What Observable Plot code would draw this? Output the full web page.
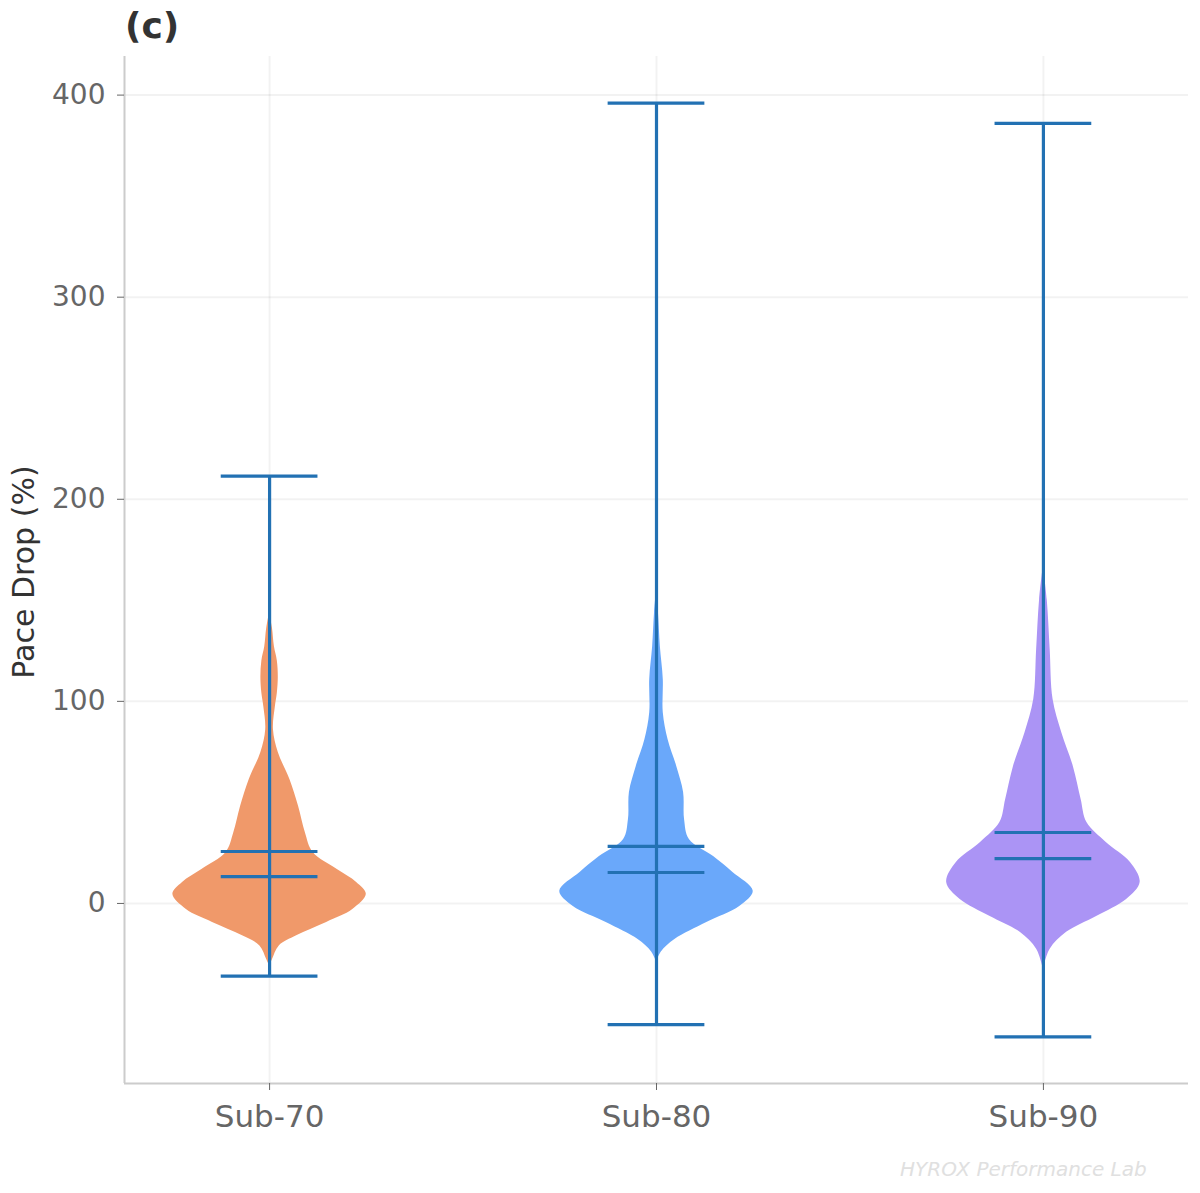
<!DOCTYPE html>
<html>
<head>
<meta charset="utf-8">
<script src="https://cdn.jsdelivr.net/npm/d3@7"></script>
<script src="https://cdn.jsdelivr.net/npm/@observablehq/plot@0.6"></script>
<style>
  body { margin: 0; background: #fff; font-family: "DejaVu Sans", sans-serif; }
  #wrap { position: relative; width: 1200px; height: 1193px; }
  #title { position: absolute; left: 125px; top: 5px; font-size: 36px; font-weight: bold; color: #333; }
  #ylabel { position: absolute; left: 23px; top: 572px; transform: translate(-50%, -50%) rotate(-90deg); font-size: 30px; color: #333; white-space: nowrap; }
  #credit { position: absolute; left: 900px; top: 1157px; font-size: 20px; font-style: italic; color: #e0e0e0; white-space: nowrap; }
</style>
</head>
<body>
<div id="wrap">
  <div id="chart"></div>
  <div id="title">(c)</div>
  <div id="ylabel">Pace Drop (%)</div>
  <div id="credit">HYROX Performance Lab</div>
</div>
<script>
// Categories and positions
const groups = ["Sub-70", "Sub-80", "Sub-90"];
const positions = [1, 2, 3];
const colors = ["#f0996a", "#6aa8fa", "#ab94f5"];

// Summary statistics
const minVals = [-36, -60, -66];
const maxVals = [211.5, 396, 386];
const meanVals = [25.7, 28.2, 35.1];
const medianVals = [13.3, 15.3, 22.2];

// Violin density profiles: value grid and relative density (max = 1)
const sub70Values  = [-31, -27.7, -21, -16, -9.4, -3, 4.5, 10.4, 16.8, 25.2, 35, 48, 61.3, 74.7, 86, 97.4, 104, 112, 120, 127, 136, 144];
const sub70Density = [0, 0.03, 0.10, 0.28, 0.59, 0.86, 1.0, 0.90, 0.70, 0.45, 0.37, 0.30, 0.21, 0.09, 0.04, 0.06, 0.08, 0.09, 0.08, 0.05, 0.03, 0];

const sub80Values  = [-29, -24, -17.8, -9.4, -1.5, 6, 15.3, 23.2, 31.6, 41.5, 54.9, 67.7, 81, 94.4, 110.8, 127, 144, 155];
const sub80Density = [0, 0.05, 0.19, 0.52, 0.86, 1.0, 0.79, 0.59, 0.34, 0.29, 0.28, 0.21, 0.12, 0.07, 0.07, 0.04, 0.02, 0];

const sub90Values  = [-32.6, -22.7, -14.3, -6.4, 2, 10.4, 20.3, 30.2, 40, 51.4, 67.7, 84.5, 100.9, 125.6, 150, 167];
const sub90Density = [0, 0.07, 0.24, 0.55, 0.86, 1.0, 0.90, 0.65, 0.45, 0.39, 0.31, 0.19, 0.10, 0.07, 0.04, 0];

const profiles = [[sub70Values, sub70Density], [sub80Values, sub80Density], [sub90Values, sub90Density]];

const halfWidth = 0.25; // violin width 0.5
const capHalf = 0.125;

const violinRows = [];
profiles.forEach(([vals, dens], i) => {
  vals.forEach((v, j) => violinRows.push({group: groups[i], pos: positions[i], value: v, density: dens[j]}));
});
const stats = groups.map((g, i) => ({
  group: g, pos: positions[i], min: minVals[i], max: maxVals[i], mean: meanVals[i], median: medianVals[i]
}));

const lineColor = "#2271b3";
const capRule = (field) => Plot.ruleY(stats, {
  y: field, x1: d => d.pos - capHalf, x2: d => d.pos + capHalf, stroke: lineColor, strokeWidth: 3.2
});

const chart = Plot.plot({
  width: 1200,
  height: 1193,
  marginLeft: 124,
  marginRight: 12,
  marginTop: 56,
  marginBottom: 110,
  style: {fontFamily: "DejaVu Sans, sans-serif", background: "#fff"},
  x: {type: "linear", domain: [0.625, 3.375]},
  y: {domain: [-89.1, 419.1]},
  color: {domain: groups, range: colors},
  marks: [
    Plot.gridY([0, 100, 200, 300, 400], {stroke: "#000", strokeOpacity: 0.05, strokeWidth: 2}),
    Plot.gridX(positions, {stroke: "#000", strokeOpacity: 0.05, strokeWidth: 2}),
    Plot.areaX(violinRows, {
      y: "value",
      x1: d => d.pos - halfWidth * d.density,
      x2: d => d.pos + halfWidth * d.density,
      fill: "group", z: "group", curve: "catmull-rom", fillOpacity: 1
    }),
    Plot.ruleX(stats, {x: "pos", y1: "min", y2: "max", stroke: lineColor, strokeWidth: 3.2}),
    capRule("min"), capRule("max"), capRule("mean"), capRule("median"),
    Plot.ruleX([0.625], {stroke: "#cccccc", strokeWidth: 2}),
    Plot.ruleY([-89.1], {stroke: "#cccccc", strokeWidth: 2}),
    Plot.axisY({ticks: [0, 100, 200, 300, 400], tickSize: 7, tickPadding: 12, fontSize: 28, color: "#666", stroke: "#666", label: null}),
    Plot.axisX({ticks: positions, tickFormat: d => groups[d - 1], tickSize: 7, tickPadding: 14, fontSize: 31, color: "#666", stroke: "#666", label: null})
  ]
});
document.getElementById("chart").appendChild(chart);
</script>
</body>
</html>
